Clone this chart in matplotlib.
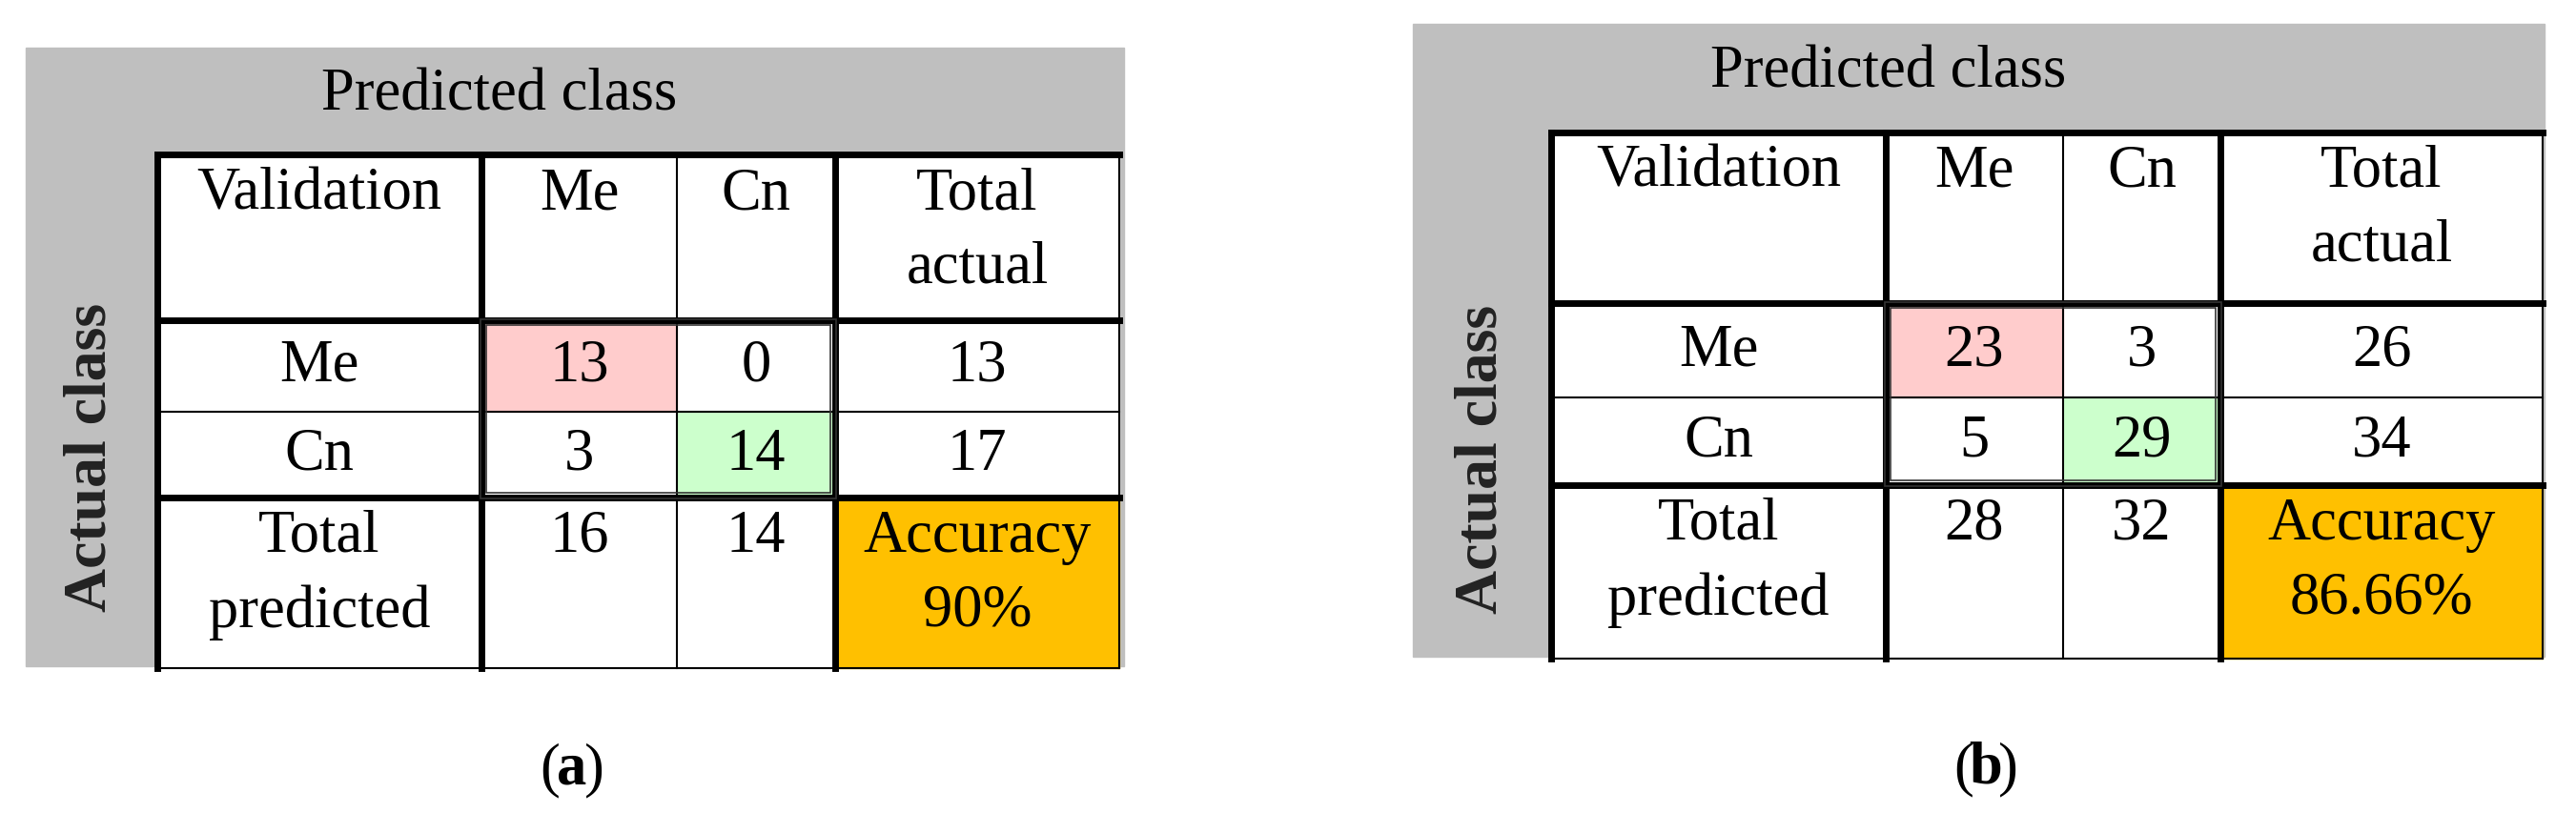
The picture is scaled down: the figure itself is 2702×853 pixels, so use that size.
import matplotlib
matplotlib.use('Agg')
import matplotlib.pyplot as plt
from matplotlib.patches import Rectangle

# data
classes = ['Me', 'Cn']
conf_a = [[13, 0], [3, 14]]
conf_b = [[23, 3], [5, 29]]
acc_a = '90%'
acc_b = '86.66%'
panel_labels = ['a', 'b']

W, H = 2702, 854
fig = plt.figure(figsize=(W / 100, H / 100), dpi=100)
ax = fig.add_axes([0, 0, 1, 1])
ax.set_xlim(0, W)
ax.set_ylim(H, 0)
ax.axis('off')

FONT = 'Liberation Serif'
FS = 45
GRAY = '#bfbfbf'
PINK = '#ffcccc'
GREEN = '#ccffcc'
ORANGE = '#ffc000'


def draw_table(gray, xs, ys, conf, acc, label, head_xy, act_xy, lab_xy):
    gx0, gy0, gx1, gy1 = gray
    ax.add_patch(Rectangle((gx0, gy0), gx1 - gx0, gy1 - gy0, color=GRAY, zorder=0))
    ax.add_patch(Rectangle((xs[0], ys[0]), xs[-1] - xs[0], ys[-1] - ys[0],
                           color='white', zorder=1))
    # coloured cells
    ax.add_patch(Rectangle((xs[1], ys[1]), xs[2] - xs[1], ys[2] - ys[1], color=PINK, zorder=1))
    ax.add_patch(Rectangle((xs[2], ys[2]), xs[3] - xs[2], ys[3] - ys[2], color=GREEN, zorder=1))
    ax.add_patch(Rectangle((xs[3], ys[3]), xs[4] - xs[3], ys[4] - ys[3], color=ORANGE, zorder=1))

    thick, thin = 5, 1.5
    for i, y in enumerate(ys):
        lw = thick if i in (0, 1, 3) else thin
        ax.plot([xs[0], xs[-1]], [y, y], color='black', lw=lw, zorder=3,
                solid_capstyle='projecting')
    for j, x in enumerate(xs):
        lw = thick if j in (0, 1, 3) else thin
        ax.plot([x, x], [ys[0], ys[-1]], color='black', lw=lw, zorder=3,
                solid_capstyle='projecting')
    # double box around the matrix
    for d in (5, -1):
        ax.add_patch(Rectangle((xs[1] + d, ys[1] + d), xs[3] - xs[1] - 2 * d,
                               ys[3] - ys[1] - 2 * d, fill=False, ec='#333333',
                               lw=1.2, zorder=4))

    def cx(j):
        return (xs[j] + xs[j + 1]) / 2

    def cy(i):
        return (ys[i] + ys[i + 1]) / 2

    kw = dict(family=FONT, fontsize=FS, ha='center', zorder=5)
    top = ys[0] + 12
    ax.text(cx(0), top, 'Validation', va='top', **kw)
    ax.text(cx(1), top, classes[0], va='top', **kw)
    ax.text(cx(2), top, classes[1], va='top', **kw)
    ax.text(cx(3), top, 'Total\nactual', va='top', linespacing=1.45, **kw)
    for i in range(2):
        ax.text(cx(0), cy(i + 1), classes[i], va='center', **kw)
        for j in range(2):
            ax.text(cx(j + 1), cy(i + 1), str(conf[i][j]), va='center', **kw)
        ax.text(cx(3), cy(i + 1), str(sum(conf[i])), va='center', **kw)
    bot = ys[3] + 12
    ax.text(cx(0), bot, 'Total\npredicted', va='top', linespacing=1.45, **kw)
    for j in range(2):
        ax.text(cx(j + 1), bot, str(conf[0][j] + conf[1][j]), va='top', **kw)
    ax.text(cx(3), bot, 'Accuracy\n' + acc, va='top', linespacing=1.45, **kw)

    ax.text(head_xy[0], head_xy[1], 'Predicted class', family=FONT, fontsize=FS,
            ha='center', va='center', zorder=5)
    ax.text(act_xy[0], act_xy[1], 'Actual class', family=FONT, fontsize=46,
            fontweight='bold', rotation=90, ha='center', va='center', color='#222222',
            zorder=5)
    ax.text(lab_xy[0] - 13, lab_xy[1], '(', family=FONT, fontsize=FS, ha='right', va='center')
    ax.text(lab_xy[0], lab_xy[1], label, family=FONT, fontsize=FS, fontweight='bold',
            ha='center', va='center')
    ax.text(lab_xy[0] + 13, lab_xy[1], ')', family=FONT, fontsize=FS, ha='left', va='center')


draw_table((27, 51, 1179, 700), [165, 505, 710, 876, 1174], [163, 337, 433, 523, 702],
           conf_a, acc_a, panel_labels[0], (524, 100), (96, 480), (600, 808))
draw_table((1482, 26, 2669, 690), [1627, 1978, 2164, 2329, 2667], [140, 319, 418, 510, 692],
           conf_b, acc_b, panel_labels[1], (1981, 76), (1554, 482), (2083, 807))

fig.savefig('out.png', dpi=100)
